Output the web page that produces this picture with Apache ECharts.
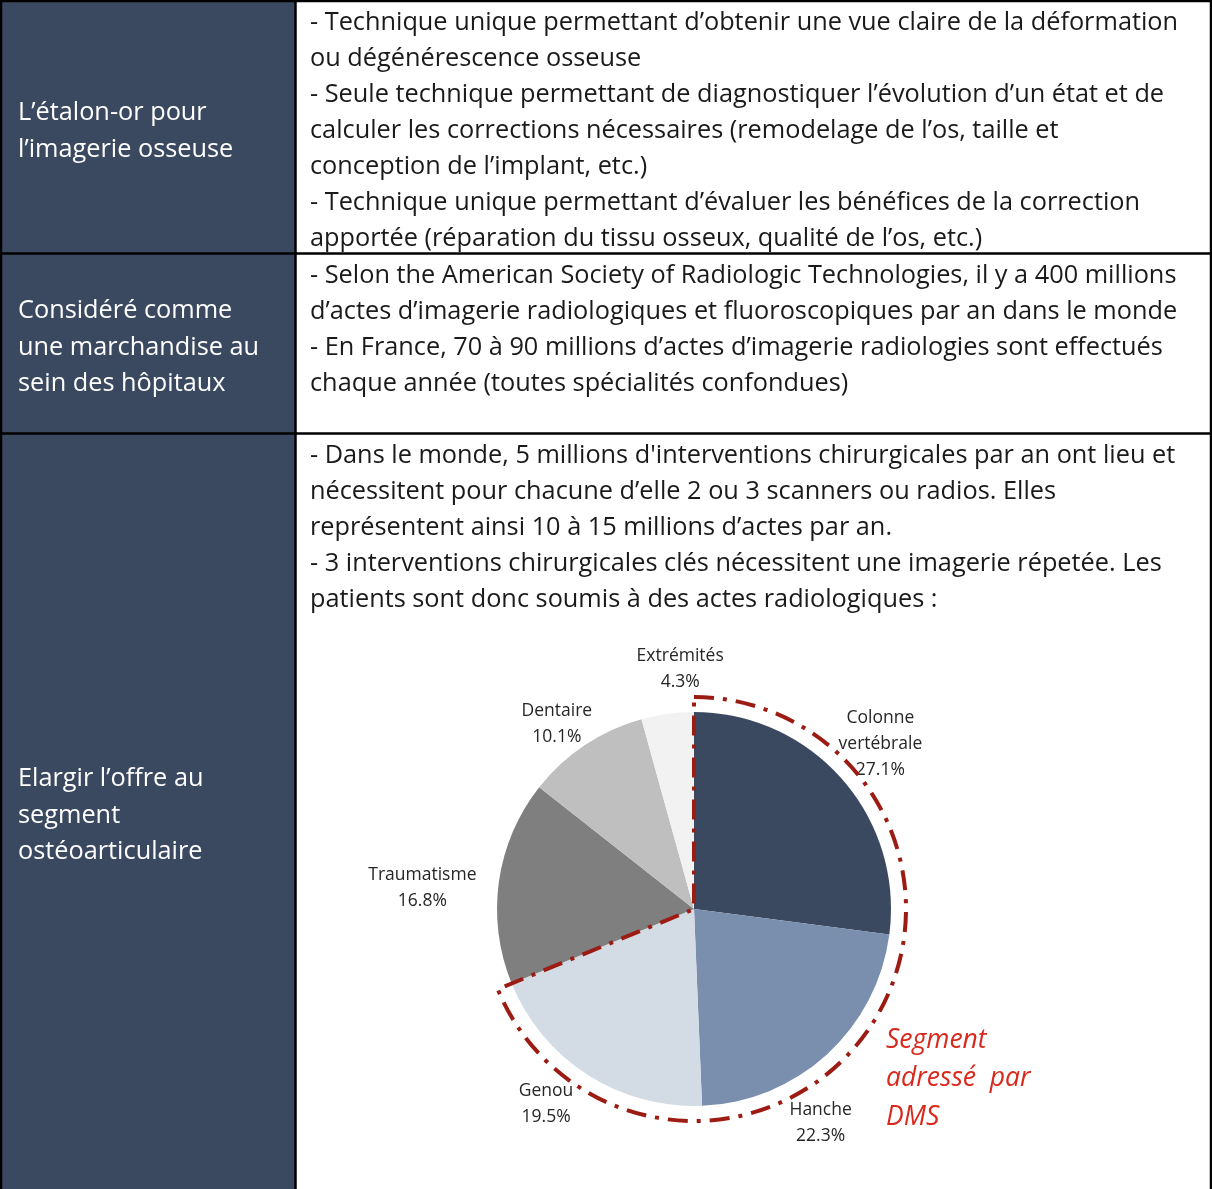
<!DOCTYPE html>
<html>
<head>
<meta charset="utf-8">
<script src="https://cdn.jsdelivr.net/npm/echarts@6/dist/echarts.min.js"></script>
<style>
html, body { margin: 0; padding: 0; background: #fff; }
#main { width: 1212px; height: 1189px; }
</style>
</head>
<body>
<div id="main"></div>
<script>
// données du graphique
var categories = ['Colonne\nvertébrale', 'Hanche', 'Genou', 'Traumatisme', 'Dentaire', 'Extrémités'];
var shares = [27.1, 22.3, 19.5, 16.8, 10.1, 4.3];
var dmsSegment = ['Colonne\nvertébrale', 'Hanche', 'Genou'];
var sliceColors = ['#3b4960', '#7a8eae', '#d3dbe5', '#7f7f7f', '#bfbfbf', '#f2f2f2'];

// textes du tableau
var rowTitles = [
	'L’étalon-or pour\nl’imagerie osseuse',
	'Considéré comme\nune marchandise au\nsein des hôpitaux',
	'Elargir l’offre au\nsegment\nostéoarticulaire'
];
var rowTexts = [
	'- Technique unique permettant d’obtenir une vue claire de la déformation\nou dégénérescence osseuse\n- Seule technique permettant de diagnostiquer l’évolution d’un état et de\ncalculer les corrections nécessaires (remodelage de l’os, taille et\nconception de l’implant, etc.)\n- Technique unique permettant d’évaluer les bénéfices de la correction\napportée (réparation du tissu osseux, qualité de l’os, etc.)',
	'- Selon the American Society of Radiologic Technologies, il y a 400 millions\nd’actes d’imagerie radiologiques et fluoroscopiques par an dans le monde\n- En France, 70 à 90 millions d’actes d’imagerie radiologies sont effectués\nchaque année (toutes spécialités confondues)',
	'- Dans le monde, 5 millions d\'interventions chirurgicales par an ont lieu et\nnécessitent pour chacune d’elle 2 ou 3 scanners ou radios. Elles\nreprésentent ainsi 10 à 15 millions d’actes par an.\n- 3 interventions chirurgicales clés nécessitent une imagerie répetée. Les\npatients sont donc soumis à des actes radiologiques :'
];
var calloutText = 'Segment\nadressé  par\nDMS';

var NAVY = '#3b4960';
var FONT = '"Open Sans", "Noto Sans", sans-serif';

var myChart = echarts.init(document.getElementById('main'));

var total = 0, dmsTotal = 0;
var pieData = categories.map(function (c, i) {
	total += shares[i];
	if (dmsSegment.indexOf(c) >= 0) dmsTotal += shares[i];
	return { name: c, value: shares[i], itemStyle: { color: sliceColors[i] } };
});

// petits décalages des étiquettes (placement "au mieux")
var labelNudge = {
	'Colonne\nvertébrale': [3, -4],
	'Hanche': [-38, 34],
	'Genou': [-16, -10],
	'Traumatisme': [-30, 13],
	'Dentaire': [-2, 18],
	'Extrémités': [19, 2]
};

var rowTop = [0, 253, 433];
var titleTop = [95, 293, 761];
var graphics = [
	{ type: 'rect', shape: { x: 0, y: 0, width: 295, height: 1189 }, style: { fill: NAVY }, z: 0 }
];
rowTexts.forEach(function (t, i) {
	graphics.push({
		type: 'text', x: 310, y: rowTop[i] + 5, z: 5,
		style: { text: t, font: '25.3px ' + FONT, fill: '#1a1a1a', lineHeight: 36 }
	});
	graphics.push({
		type: 'text', x: 18, y: titleTop[i], z: 5,
		style: { text: rowTitles[i], font: '25.3px ' + FONT, fill: '#ffffff', lineHeight: 36.5 }
	});
});
// bordures
[
	[0, 1, 1212, 1], [0, 253.5, 1212, 253.5], [0, 433.5, 1212, 433.5],
	[1, 0, 1, 1189], [295.5, 0, 295.5, 1189], [1211, 0, 1211, 1189]
].forEach(function (l) {
	graphics.push({
		type: 'line', z: 6,
		shape: { x1: l[0], y1: l[1], x2: l[2], y2: l[3] },
		style: { stroke: '#000', lineWidth: 2.5 }
	});
});
graphics.push({
	type: 'text', x: 886, y: 1021, z: 6,
	style: { text: calloutText, font: 'italic 26.5px ' + FONT, fill: '#d9281c', lineHeight: 38.5 }
});

myChart.setOption({
	animation: false,
	graphic: graphics,
	series: [
		{
			name: 'Actes',
			type: 'pie',
			center: [694, 909],
			radius: 197,
			startAngle: 90,
			silent: true,
			z: 2,
			label: { show: false },
			labelLine: { show: false },
			data: pieData
		},
		{
			name: 'Etiquettes',
			type: 'pie',
			center: [694, 909],
			radius: [0, 482],
			startAngle: 90,
			silent: true,
			z: 3,
			itemStyle: { color: 'transparent', borderWidth: 0 },
			emphasis: { disabled: true },
			label: {
				show: true,
				position: 'inside',
				rotate: 0,
				color: '#262626',
				fontFamily: FONT,
				fontSize: 17.5,
				lineHeight: 26,
				align: 'center',
				formatter: function (p) {
					return p.name + '\n' + p.value.toFixed(1) + '%';
				}
			},
			labelLine: { show: false },
			labelLayout: function (p) {
				var n = labelNudge[categories[p.dataIndex]] || [0, 0];
				return { dx: n[0], dy: n[1] };
			},
			data: categories.map(function (c, i) { return { name: c, value: shares[i] }; })
		},
		{
			name: 'Segment DMS',
			type: 'pie',
			center: [694, 909],
			radius: 212,
			startAngle: 90,
			silent: true,
			z: 4,
			label: { show: false },
			labelLine: { show: false },
			emphasis: { disabled: true },
			data: [
				{
					value: dmsTotal,
					itemStyle: {
						color: 'transparent', borderColor: '#9c1c14', borderWidth: 4,
						borderType: [20, 9, 4, 9], borderJoin: 'miter'
					}
				},
				{ value: total - dmsTotal, itemStyle: { color: 'transparent', borderWidth: 0 } }
			]
		}
	]
});
</script>
</body>
</html>
